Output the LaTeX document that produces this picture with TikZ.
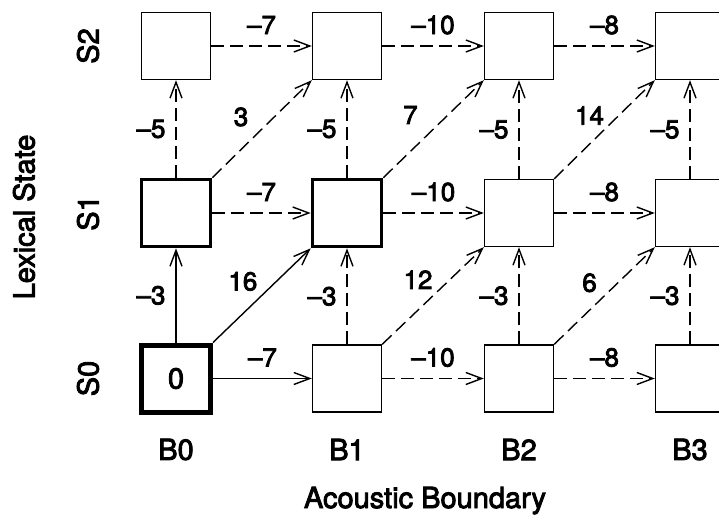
\documentclass[tikz,border=0pt]{standalone}
\usepackage{fontspec}
\setmainfont[FakeBold=3]{TeX Gyre Heros}
\usetikzlibrary{arrows.meta}
\begin{document}
\begin{tikzpicture}[x=1pt,y=1pt,
  cell/.style={draw, line width=1.4pt, minimum width=69pt, minimum height=67pt, inner sep=0pt},
  boldcell/.style={cell, line width=3.6pt},
  startcell/.style={cell, line width=5pt},
  link/.style={line width=1.4pt, -{Straight Barb[length=16pt,width=12pt]}},
  weak/.style={link, dash pattern=on 13pt off 6pt},
  wt/.style={font=\fontsize{26}{30}\selectfont, inner sep=0pt},
  axis/.style={font=\fontsize{29}{34}\selectfont, inner sep=0pt}]
\useasboundingbox (0,0) rectangle (719,523);
\clip (0,0) rectangle (719,523);

% lattice cells: n<state><boundary>
\node[startcell, axis] (n00) at (176,144.5) {0};
\node[cell] (n01) at (347,144.5) {};
\node[cell] (n02) at (519,144.5) {};
\node[cell] (n03) at (690,144.5) {};
\node[boldcell] (n10) at (176,310) {};
\node[boldcell] (n11) at (347,310) {};
\node[cell] (n12) at (519,310) {};
\node[cell] (n13) at (690,310) {};
\node[cell] (n20) at (176,477) {};
\node[cell] (n21) at (347,477) {};
\node[cell] (n22) at (519,477) {};
\node[cell] (n23) at (690,477) {};

% axis labels
\node[axis, rotate=90] (s0) at (88,144.5) {S0};
\node[axis, rotate=90] (s1) at (88,310) {S1};
\node[axis, rotate=90] (s2) at (88,477) {S2};
\node[axis, rotate=90] (ls) at (24,306) {Lexical State};
\node[axis] (b0) at (176,73.5) {B0};
\node[axis] (b1) at (347,73.5) {B1};
\node[axis] (b2) at (519,73.5) {B2};
\node[axis] (b3) at (690,73.5) {B3};
\node[axis, anchor=base] (ab) at (425,15) {Acoustic Boundary};

% boundary transitions
\draw[link] (n00) -- node[wt, yshift=21pt] {\textendash7} (n01);
\draw[weak] (n01) -- node[wt, yshift=21pt] {\textendash10} (n02);
\draw[weak] (n02) -- node[wt, yshift=21pt] {\textendash8} (n03);
\draw[weak] (n10) -- node[wt, yshift=21pt] {\textendash7} (n11);
\draw[weak] (n11) -- node[wt, yshift=21pt] {\textendash10} (n12);
\draw[weak] (n12) -- node[wt, yshift=21pt] {\textendash8} (n13);
\draw[weak] (n20) -- node[wt, yshift=21pt] {\textendash7} (n21);
\draw[weak] (n21) -- node[wt, yshift=21pt] {\textendash10} (n22);
\draw[weak] (n22) -- node[wt, yshift=21pt] {\textendash8} (n23);

% state transitions
\draw[link] (n00) -- node[wt, xshift=-25pt] {\textendash3} (n10);
\draw[weak] (n01) -- node[wt, xshift=-25pt] {\textendash3} (n11);
\draw[weak] (n02) -- node[wt, xshift=-25pt] {\textendash3} (n12);
\draw[weak] (n03) -- node[wt, xshift=-25pt] {\textendash3} (n13);
\draw[weak] (n10) -- node[wt, xshift=-25pt] {\textendash5} (n20);
\draw[weak] (n11) -- node[wt, xshift=-25pt] {\textendash5} (n21);
\draw[weak] (n12) -- node[wt, xshift=-25pt] {\textendash5} (n22);
\draw[weak] (n13) -- node[wt, xshift=-25pt] {\textendash5} (n23);

% combined transitions
\draw[link] (n00.north east) -- node[wt, shift={(-19pt,14pt)}] {16} (n11.south west);
\draw[weak] (n01.north east) -- node[wt, shift={(-15pt,16pt)}] {12} (n12.south west);
\draw[weak] (n02.north east) -- node[wt, shift={(-15pt,13pt)}] {6} (n13.south west);
\draw[weak] (n10.north east) -- node[wt, shift={(-21pt,12pt)}] {3} (n21.south west);
\draw[weak] (n11.north east) -- node[wt, shift={(-23pt,14pt)}] {7} (n22.south west);
\draw[weak] (n12.north east) -- node[wt, shift={(-15pt,14pt)}] {14} (n23.south west);
\end{tikzpicture}
\end{document}
